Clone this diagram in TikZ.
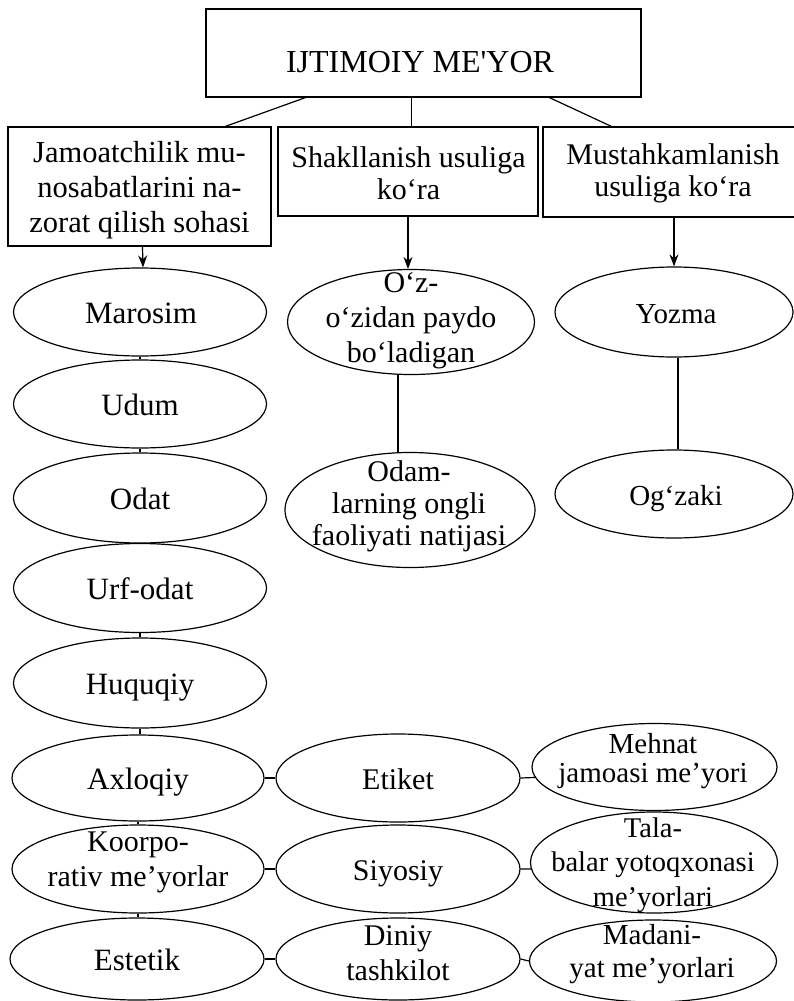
\documentclass[tikz,border=0pt]{standalone}
\usepackage{fontspec}
\setmainfont{Liberation Serif}
\usetikzlibrary{shapes.geometric,arrows.meta}
\newcommand\fsz[2]{\fontsize{#1}{#2}\selectfont}
\begin{document}
\begin{tikzpicture}[x=1pt,y=-1pt,line width=1.2pt,
  box/.style={draw,rectangle,inner sep=0pt},
  ell/.style={draw,ellipse,inner sep=0pt},
  txt/.style={inner sep=0pt,align=center},
  tone/.style={txt,text height=23pt,text depth=0pt},
  arr/.style={-{Stealth[length=12pt,width=9pt]}}]
\useasboundingbox (0,0) rectangle (794,1001);

% ---- boxes
\node[box,minimum width=435pt,minimum height=88pt] (top) at (423.5,53) {};
\node[tone,font=\fsz{32}{36}] (top-t) at (420,61) {IJTIMOIY ME\textquotesingle YOR};
\node[box,minimum width=263pt,minimum height=119pt] (lbox) at (139.5,186.5) {};
\node[txt,font=\fsz{30.5}{35}] (lbox-t) at (139.5,190) {Jamoatchilik mu-\\nosabatlarini na-\\zorat qilish sohasi};
\node[box,minimum width=260pt,minimum height=89pt] (mbox) at (408,171.5) {};
\node[txt,font=\fsz{30}{32}] (mbox-t) at (408.5,173) {Shakllanish usuliga\\ko‘ra};
\node[box,minimum width=254pt,minimum height=90pt] (rbox) at (670,172) {};
\node[txt,font=\fsz{30}{32}] (rbox-t) at (673,173) {Mustahkamlanish\\usuliga ko‘ra};

% ---- left column
\node[ell,minimum width=253pt,minimum height=88pt] (marosim) at (140,312) {};
\node[ell,minimum width=253pt,minimum height=88pt] (udum) at (140,404) {};
\node[ell,minimum width=253pt,minimum height=90pt] (odat) at (140,498) {};
\node[ell,minimum width=253pt,minimum height=89pt] (urf) at (140,588) {};
\node[ell,minimum width=253pt,minimum height=90pt] (huquq) at (140,683) {};
\node[ell,minimum width=252pt,minimum height=86pt] (axloq) at (138,778) {};
\node[ell,minimum width=252pt,minimum height=88pt] (koorp) at (138,869) {};
\node[ell,minimum width=254pt,minimum height=82pt] (estetik) at (137,959) {};
\node[tone,font=\fsz{31}{33}] (marosim-t) at (141,312) {Marosim};
\node[tone,font=\fsz{31}{33}] (udum-t) at (140,404) {Udum};
\node[tone,font=\fsz{31}{33}] (odat-t) at (140,498) {Odat};
\node[tone,font=\fsz{31}{33}] (urf-t) at (140,588) {Urf-odat};
\node[tone,font=\fsz{31}{33}] (huquq-t) at (140,683) {Huquqiy};
\node[tone,font=\fsz{31}{33}] (axloq-t) at (138,778) {Axloqiy};
\node[txt,font=\fsz{30}{35}] (koorp-t) at (138,862) {Koorpo-\\rativ me’yorlar};
\node[tone,font=\fsz{31}{33}] (estetik-t) at (137,959) {Estetik};

% ---- middle column
\node[ell,minimum width=247pt,minimum height=105pt] (ozz) at (411,322) {};
\node[ell,minimum width=250pt,minimum height=115pt] (odam) at (410,510) {};
\node[ell,minimum width=244pt,minimum height=88pt] (etiket) at (398,778) {};
\node[ell,minimum width=244pt,minimum height=88pt] (siyosiy) at (398,869) {};
\node[ell,minimum width=244pt,minimum height=82pt] (diniy) at (398,959) {};
\node[txt,font=\fsz{30}{35}] (ozz-t) at (411,321) {O‘z-\\o‘zidan paydo\\bo‘ladigan};
\node[txt,font=\fsz{30}{32}] (odam-t) at (409,506) {Odam-\\larning ongli\\faoliyati natijasi};
\node[tone,font=\fsz{30}{33}] (etiket-t) at (398,778) {Etiket};
\node[tone,font=\fsz{30}{33}] (siyosiy-t) at (398,869) {Siyosiy};
\node[txt,font=\fsz{30}{35}] (diniy-t) at (398,953) {Diniy\\tashkilot};

% ---- right column
\node[ell,minimum width=238pt,minimum height=90pt] (yozma) at (674,312) {};
\node[ell,minimum width=238pt,minimum height=88pt] (ogzaki) at (674,494) {};
\node[ell,minimum width=245pt,minimum height=87pt] (mehnat) at (654.5,767) {};
\node[ell,minimum width=247pt,minimum height=101pt] (tala) at (654,862.5) {};
\node[ell,minimum width=247pt,minimum height=82pt] (madani) at (653,961) {};
\node[tone,font=\fsz{29}{33}] (yozma-t) at (676,312) {Yozma};
\node[tone,font=\fsz{29}{33}] (ogzaki-t) at (676,494) {Og‘zaki};
\node[txt,font=\fsz{29}{28.5}] (mehnat-t) at (653,761) {Mehnat\\jamoasi me’yori};
\node[txt,font=\fsz{28.5}{34.5}] (tala-t) at (653,865) {Tala-\\balar yotoqxonasi\\me’yorlari};
\node[txt,font=\fsz{29}{33}] (madani-t) at (652,954) {Madani-\\yat me’yorlari};

% ---- connectors from top box
\draw ([xshift=100pt]top.south west) -- ([xshift=218pt]lbox.north west);
\draw ([xshift=206pt]top.south west) -- ([xshift=134pt]mbox.north west);
\draw ([xshift=344pt]top.south west) -- ([xshift=69pt]rbox.north west);

% ---- arrows
\draw[arr] ([xshift=3pt]lbox.south) -- ([xshift=3pt]marosim.north);
\draw[arr] (mbox.south) -- (mbox.south |- ozz.north);
\draw[arr] (yozma.north |- rbox.south) -- (yozma.north);

% ---- left column ticks
\draw (marosim.south) -- (udum.north);
\draw (udum.south) -- (odat.north);
\draw (odat.south) -- (urf.north);
\draw (urf.south) -- (huquq.north);
\draw (huquq.south) -- (huquq.south |- axloq.north);
\draw (axloq.south) -- (koorp.north);
\draw (koorp.south) -- (koorp.south |- estetik.north);

% ---- middle and right verticals
\draw ([xshift=-13pt]ozz.south) -- ([xshift=-13pt]ozz.south |- odam.north);
\draw ([xshift=4pt]yozma.south) -- ([xshift=4pt]ogzaki.north);

% ---- horizontal links
\draw (axloq.east) -- (etiket.west);
\draw (etiket.east) -- (mehnat.185);
\draw (koorp.east) -- (siyosiy.west);
\draw (siyosiy.east) -- (tala.183);
\draw (estetik.east) -- (diniy.west);
\draw (diniy.east) -- (madani.west);
\end{tikzpicture}
\end{document}
